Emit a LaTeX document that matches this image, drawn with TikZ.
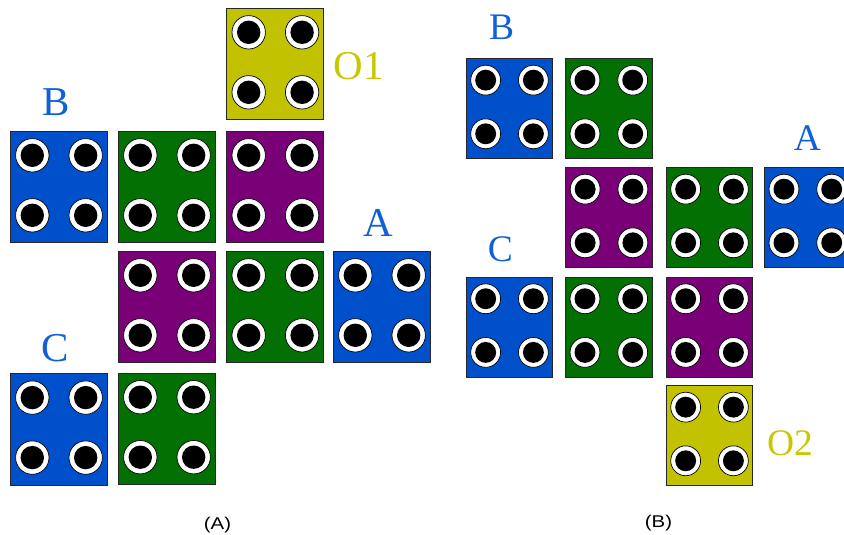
\documentclass[tikz,border=0pt]{standalone}
\usepackage{fontspec}
\setmainfont{Liberation Serif}
\newfontfamily\capfont[FakeStretch=1.2]{Liberation Sans}

\definecolor{brickblue}{HTML}{0050CC}
\definecolor{brickgreen}{HTML}{037003}
\definecolor{brickpurple}{HTML}{790076}
\definecolor{brickyellow}{HTML}{C2C200}
\definecolor{tagblue}{HTML}{1060D8}
\definecolor{tagyellow}{HTML}{C8C800}

\tikzset{
  brickbox/.style={draw=black!85, line width=0.8pt, inner sep=0pt, outer sep=0pt},
  studring/.style={fill=white, draw=black, line width=0.7pt},
  studcore/.style={fill=black},
  bigtag/.style={inner sep=0pt, font=\fontsize{41}{41}\selectfont},
  smalltag/.style={inner sep=0pt, font=\fontsize{37.5}{37.5}\selectfont},
  caption/.style={inner sep=0pt, font=\capfont\fontsize{17}{17}\selectfont}
}

% one 2x2 brick: name, left, top, scale, fill colour
\newcommand\legobrick[5]{%
  \pgfmathsetlengthmacro\bw{97pt*#4}%
  \pgfmathsetlengthmacro\bh{111.5pt*#4}%
  \node[brickbox, fill=#5, minimum width=\bw, minimum height=\bh, anchor=north west] (#1) at (#2,#3) {};
  \begin{scope}[shift={(#2,#3)}, scale=#4]
    \foreach \sx in {22,75.4}{
      \foreach \sy in {24,84}{
        \path[studring] (\sx,\sy) circle[radius=16.7];
        \path[studcore] (\sx,\sy) circle[radius=11.7];
      }
    }
  \end{scope}}

\begin{document}
\begin{tikzpicture}[x=1pt, y=-1pt]
  \useasboundingbox (0,0) rectangle (844,535);
  \clip (0,0) rectangle (844,535);

  % ---- left arrangement
  \legobrick{aO}{226.7}{8.3}{1}{brickyellow}
  \legobrick{aB}{10.3}{131.3}{1}{brickblue}
  \legobrick{aG1}{118.3}{131.3}{1}{brickgreen}
  \legobrick{aP1}{226.7}{131.3}{1}{brickpurple}
  \legobrick{aP2}{118.3}{251.3}{1}{brickpurple}
  \legobrick{aG2}{226.7}{251.3}{1}{brickgreen}
  \legobrick{aA}{333.3}{251.3}{1}{brickblue}
  \legobrick{aC}{10.3}{373.6}{1}{brickblue}
  \legobrick{aG3}{118.3}{373.2}{1}{brickgreen}

  \node[bigtag, text=tagblue] (tagaB) at (56.5,102) {B};
  \node[bigtag, text=tagyellow] (tagaO) at (359,66) {O1};
  \node[bigtag, text=tagblue] (tagaA) at (378,222.5) {A};
  \node[bigtag, text=tagblue] (tagaC) at (55,348.5) {C};
  \node[caption] (capA) at (217.5,525.5) {(A)};

  % ---- right arrangement
  \legobrick{bB}{466}{58.7}{0.894}{brickblue}
  \legobrick{bG1}{565.3}{58.7}{0.894}{brickgreen}
  \legobrick{bP1}{565.5}{167.7}{0.894}{brickpurple}
  \legobrick{bG2}{666}{167.7}{0.894}{brickgreen}
  \legobrick{bA}{764.3}{167.7}{0.894}{brickblue}
  \legobrick{bC}{466}{277.3}{0.894}{brickblue}
  \legobrick{bG3}{565.3}{277.3}{0.894}{brickgreen}
  \legobrick{bP2}{666}{277.3}{0.894}{brickpurple}
  \legobrick{bO}{666}{385.7}{0.894}{brickyellow}

  \node[smalltag, text=tagblue] (tagbB) at (501.7,27.5) {B};
  \node[smalltag, text=tagblue] (tagbA) at (807.5,138) {A};
  \node[smalltag, text=tagblue] (tagbC) at (500.3,249) {C};
  \node[smalltag, text=tagyellow] (tagbO) at (790,443) {O2};
  \node[caption] (capB) at (658.5,523) {(B)};
\end{tikzpicture}
\end{document}
